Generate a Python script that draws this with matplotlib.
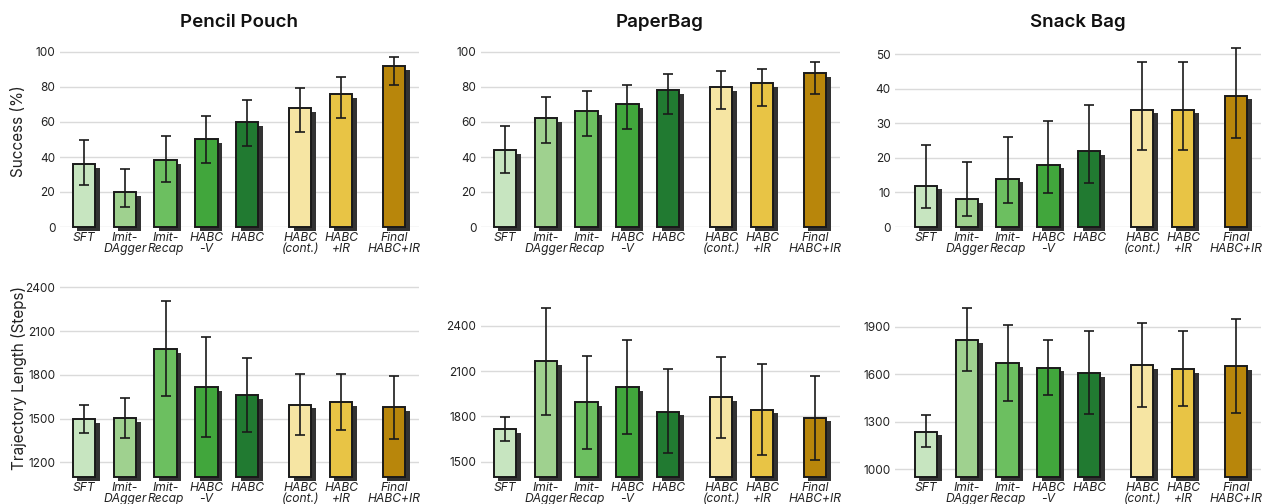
import matplotlib
matplotlib.use("Agg")
import matplotlib.pyplot as plt
import matplotlib.patheffects as pe
import numpy as np

plt.rcParams['font.family'] = ['Inter', 'DejaVu Sans']

methods = ["SFT", "Imit-\nDAgger", "Imit-\nRecap", "HABC\n-V", "HABC",
           "HABC\n(cont.)", "HABC\n+IR", "Final\nHABC+IR"]
positions = [0, 1, 2, 3, 4, 5.3, 6.3, 7.6]
colors = ["#c7e5c0", "#9fd18f", "#6cbf60", "#41a63c", "#217a31",
          "#f6e5a3", "#e8c445", "#b8860b"]

tasks = ["Pencil Pouch", "PaperBag", "Snack Bag"]

# Success (%) : mean, lower bound, upper bound
succ_mean = [
    [36, 20, 38, 50, 60, 68, 76, 92],
    [44, 62, 66, 70, 78, 80, 82, 88],
    [12, 8, 14, 18, 22, 34, 34, 38],
]
succ_low = [
    [24.2, 11.2, 25.7, 36.6, 46.3, 54.3, 62.5, 81.1],
    [31.0, 48.2, 52.2, 56.2, 64.8, 67.2, 69.3, 76.2],
    [5.5, 3.1, 7.0, 9.8, 12.8, 22.3, 22.3, 25.9],
]
succ_high = [
    [49.9, 33.0, 51.8, 63.4, 72.6, 79.4, 85.7, 97.0],
    [57.7, 74.3, 77.9, 81.1, 87.4, 89.0, 90.5, 94.5],
    [23.8, 18.8, 26.1, 30.8, 35.2, 47.8, 47.8, 51.7],
]

# Trajectory length (steps): mean, lower, upper
traj_mean = [
    [1497, 1504, 1977, 1717, 1659, 1595, 1611, 1579],
    [1716, 2166, 1893, 1994, 1831, 1926, 1844, 1791],
    [1238, 1820, 1670, 1641, 1607, 1658, 1634, 1653],
]
traj_low = [
    [1401, 1367, 1653, 1376, 1406, 1390, 1419, 1362],
    [1639, 1813, 1588, 1685, 1560, 1657, 1544, 1513],
    [1137, 1624, 1428, 1468, 1346, 1396, 1398, 1358],
]
traj_high = [
    [1593, 1641, 2306, 2057, 1915, 1803, 1808, 1794],
    [1796, 2519, 2201, 2307, 2111, 2190, 2149, 2069],
    [1341, 2018, 1915, 1816, 1875, 1923, 1873, 1951],
]

succ_ticks = [[0, 20, 40, 60, 80, 100], [0, 20, 40, 60, 80, 100], [0, 10, 20, 30, 40, 50]]
traj_ticks = [[1200, 1500, 1800, 2100, 2400], [1500, 1800, 2100, 2400], [1000, 1300, 1600, 1900]]
succ_ylim = [(0, 104), (0, 104), (0, 52.7)]
traj_ylim = [(1100, 2450), (1400, 2702), (950, 2197)]

W, H = 1265, 504
fig = plt.figure(figsize=(W / 100, H / 100), dpi=100)

unit = 40.8
sft_centers = [84, 505, 926]
xlo = [-0.6, -0.6, -0.76]
xhi = 8.2

def rect(left_px, top_px, width_px, height_px):
    return [left_px / W, 1 - (top_px + height_px) / H, width_px / W, height_px / H]

shadow = [pe.SimplePatchShadow(offset=(3.3, -2.6), shadow_rgbFace="#333333", alpha=1.0),
          pe.Normal()]

def draw(ax, mean, low, high, bottom, ticks, ylim, xl):
    mean = np.array(mean, float)
    low = np.array(low, float)
    high = np.array(high, float)
    bars = ax.bar(positions, mean - bottom, bottom=bottom, width=0.55, color=colors,
                  edgecolor="#1a1a1a", linewidth=1.4, zorder=3, clip_on=False)
    for b in bars:
        b.set_path_effects(shadow)
    ax.errorbar(positions, mean, yerr=[mean - low, high - mean], fmt="none",
                ecolor="#1a1a1a", elinewidth=1.2, capsize=3.5, capthick=1.2, zorder=4)
    ax.set_xlim(xl, xhi)
    ax.set_ylim(*ylim)
    ax.set_yticks(ticks)
    ax.set_xticks(positions)
    ax.set_xticklabels(methods, fontstyle="italic", fontsize=8.7, linespacing=0.95)
    ax.tick_params(axis="both", length=0, labelcolor="#222222")
    ax.tick_params(axis="y", labelsize=8.5, pad=3)
    ax.tick_params(axis="x", pad=3.5)
    ax.grid(axis="y", color="#dadada", linewidth=1.0, zorder=0)
    ax.set_axisbelow(True)
    for s in ax.spines.values():
        s.set_visible(False)

for i in range(3):
    left = sft_centers[i] + xlo[i] * unit
    width = (xhi - xlo[i]) * unit
    ax1 = fig.add_axes(rect(left, 45, width, 182))
    draw(ax1, succ_mean[i], succ_low[i], succ_high[i], 0, succ_ticks[i], succ_ylim[i], xlo[i])
    ax1.set_title(tasks[i], fontsize=13.5, fontweight="semibold", pad=13, color="#111111")
    ax2 = fig.add_axes(rect(left, 280, width, 197))
    draw(ax2, traj_mean[i], traj_low[i], traj_high[i], traj_ylim[i][0], traj_ticks[i],
         traj_ylim[i], xlo[i])

fig.text(19 / W, 1 - 131 / H, "Success (%)", rotation=90, ha="center", va="center",
         fontsize=11, color="#222222")
fig.text(19 / W, 1 - 378 / H, "Trajectory Length (Steps)", rotation=90, ha="center",
         va="center", fontsize=11, color="#222222")

fig.savefig("out.png", dpi=100)
